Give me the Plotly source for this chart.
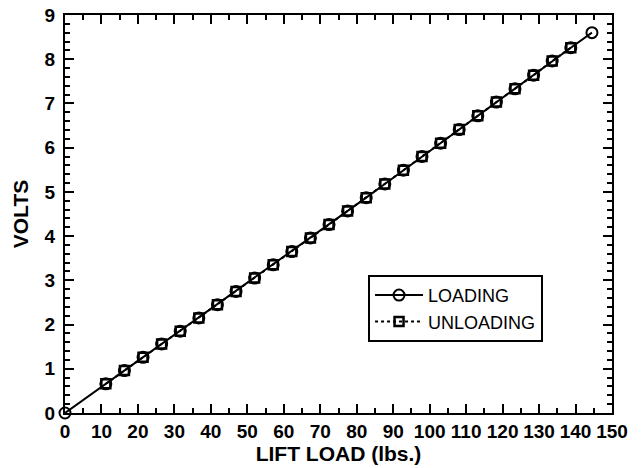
import plotly.graph_objects as go

load_lbs = [0, 11.2, 16.3, 21.4, 26.5, 31.6, 36.7, 41.8, 46.9, 52.0, 57.1, 62.2, 67.3, 72.4,
            77.5, 82.6, 87.7, 92.8, 97.9, 103.0, 108.1, 113.2, 118.3, 123.4, 128.5, 133.6,
            138.7, 144.5]
loading_volts = [0.0, 0.66, 0.96, 1.26, 1.56, 1.85, 2.15, 2.45, 2.75, 3.05, 3.35, 3.65, 3.96,
                 4.26, 4.57, 4.87, 5.18, 5.49, 5.8, 6.1, 6.41, 6.72, 7.03, 7.33, 7.64, 7.96,
                 8.26, 8.6]
unload_lbs = load_lbs[1:-1]
unloading_volts = loading_volts[1:-1]

font_family = "Liberation Sans, Arial, sans-serif"

fig = go.Figure()
fig.add_trace(go.Scatter(
    x=unload_lbs, y=unloading_volts, name="UNLOADING", mode="lines+markers",
    line=dict(color="black", width=2, dash="dot"),
    marker=dict(symbol="square-open", size=9, color="black", line=dict(width=2.5)),
    cliponaxis=False,
))
fig.add_trace(go.Scatter(
    x=load_lbs, y=loading_volts, name="LOADING", mode="lines+markers",
    line=dict(color="black", width=2),
    marker=dict(symbol="circle-open", size=11, color="black", line=dict(width=2)),
    cliponaxis=False,
))

axis_common = dict(
    showgrid=False, zeroline=False, showline=True, linecolor="black", linewidth=2,
    mirror="ticks", ticks="inside", tickcolor="black", tickwidth=2, ticklen=9,
    tickfont=dict(family=font_family, size=19, color="black", weight="bold"),
    automargin=False, ticklabeloverflow="allow",
)
fig.update_xaxes(
    range=[0, 150], dtick=10, tick0=0,
    minor=dict(dtick=5, ticks="inside", ticklen=5, tickwidth=2, tickcolor="black"),
    title=dict(text="LIFT LOAD (lbs.)", standoff=2,
               font=dict(family=font_family, size=21, color="black", weight="bold")),
    **axis_common,
)
fig.update_yaxes(
    range=[0, 9], dtick=1, tick0=0,
    minor=dict(dtick=0.2, ticks="inside", ticklen=5, tickwidth=2, tickcolor="black"),
    title=dict(text="VOLTS", standoff=10,
               font=dict(family=font_family, size=21, color="black", weight="bold")),
    ticklabelstandoff=4,
    **axis_common,
)
fig.update_layout(
    width=641, height=468,
    margin=dict(l=65, r=29, t=15, b=55),
    plot_bgcolor="white", paper_bgcolor="white",
    legend=dict(
        x=0.554, y=0.347, xanchor="left", yanchor="top",
        bordercolor="black", borderwidth=2, bgcolor="white",
        traceorder="reversed",
        font=dict(family=font_family, size=18, color="black"),
        itemwidth=48,
    ),
)
fig.write_html(
    "out.html",
    config={"displayModeBar": False},
    post_script="document.body.style.margin='0';document.body.style.overflow='hidden';",
)
